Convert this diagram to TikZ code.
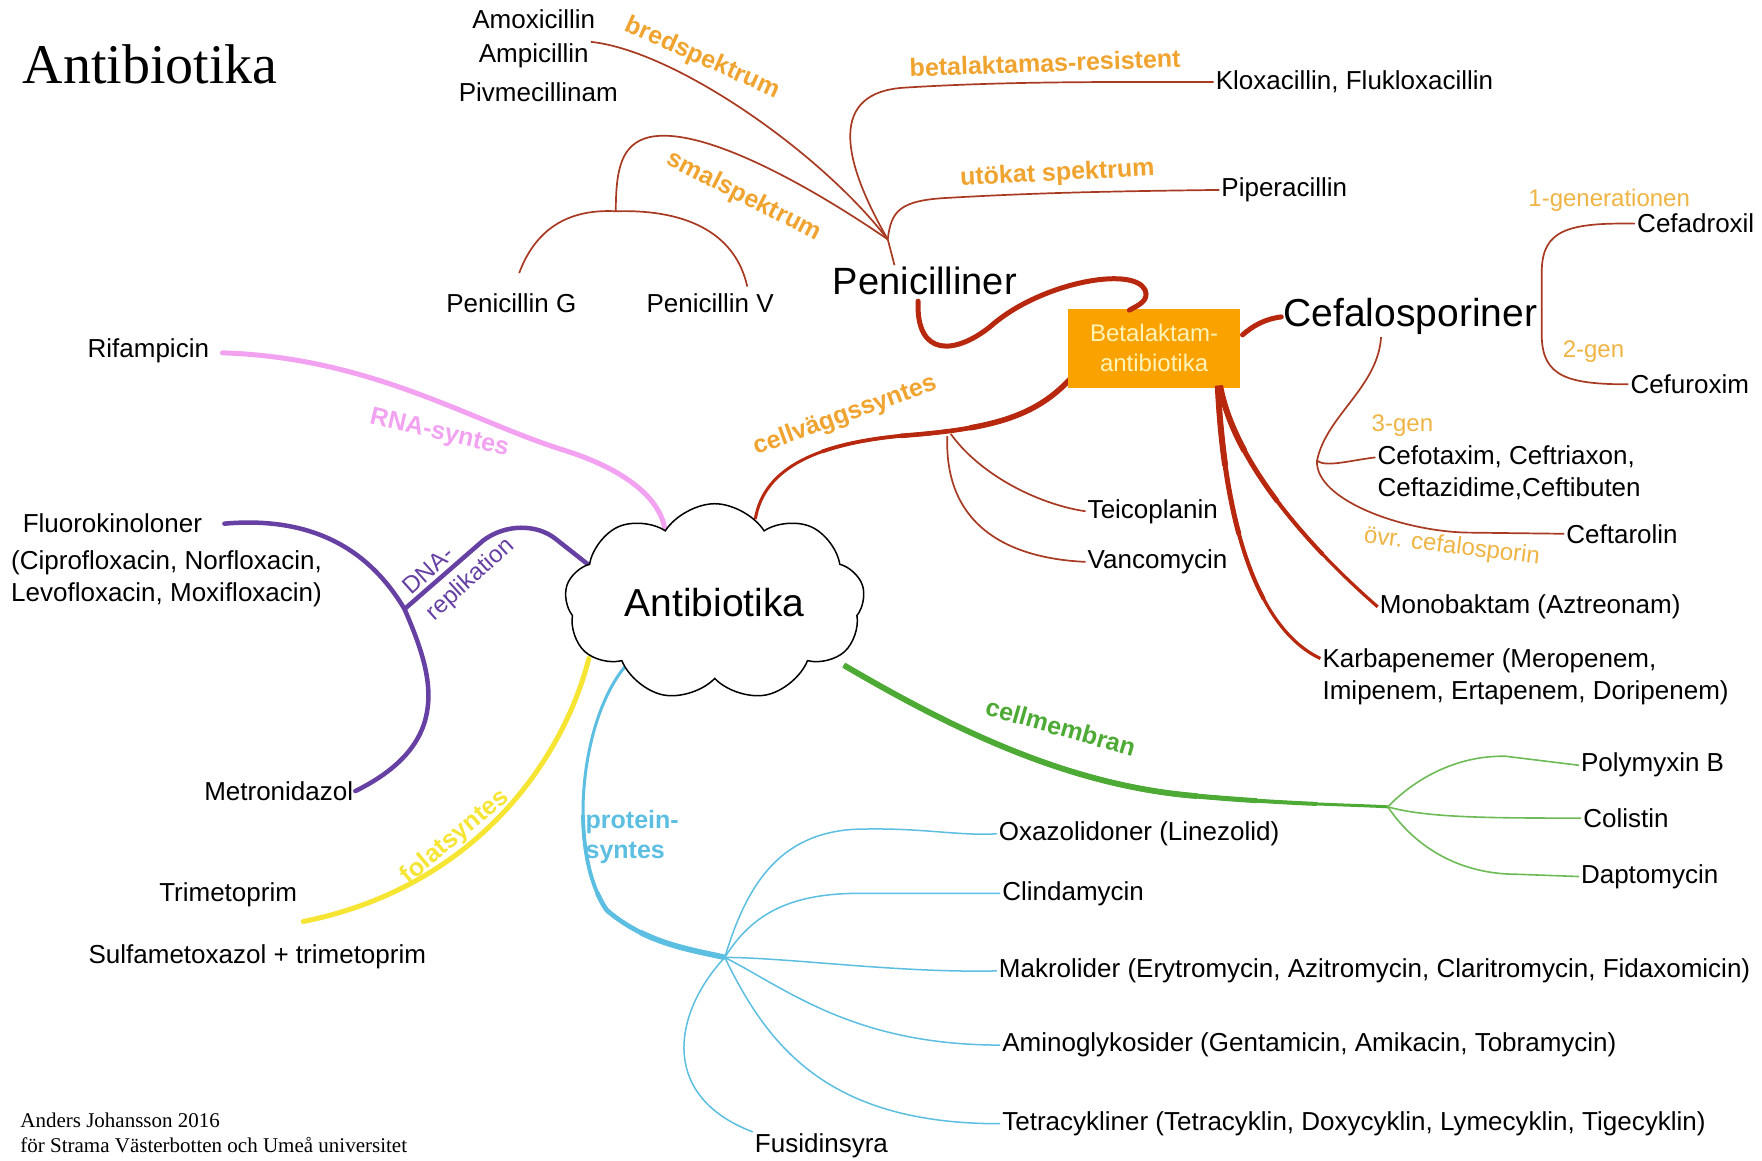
\documentclass[tikz,border=0pt]{standalone}
\usepackage{fontspec}
\setmainfont{Liberation Sans}
\newfontfamily\serifA{Liberation Serif}
\usetikzlibrary{shapes.symbols,calc}
\definecolor{lblorange}{HTML}{F0A32E}
\definecolor{lblgen}{HTML}{EFB443}
\definecolor{redthin}{HTML}{A93A22}
\definecolor{redthick}{HTML}{B8280E}
\definecolor{boxfill}{HTML}{FAA200}
\definecolor{boxtext}{HTML}{FFF4B8}
\definecolor{pinkc}{HTML}{F2A2F0}
\definecolor{purplec}{HTML}{6640A2}
\definecolor{yellowc}{HTML}{F6E532}
\definecolor{bluec}{HTML}{5CBFE2}
\definecolor{greenc}{HTML}{4DAA34}
\definecolor{greenthin}{HTML}{6DBB55}
\pgfdeclarelayer{bglines}
\pgfsetlayers{bglines,main}
\begin{document}
\begin{tikzpicture}[x=1.1237pt,y=-1.1237pt,
  item/.style={font=\fontsize{26}{32}\selectfont, inner sep=2pt, align=left},
  big/.style={font=\fontsize{38}{44}\selectfont, inner sep=2pt},
  lbl/.style={font=\bfseries\fontsize{25}{30}\selectfont, text=lblorange, inner sep=0pt},
  genlbl/.style={font=\fontsize{24}{28}\selectfont, text=lblgen, inner sep=0pt},
  thinred/.style={draw=redthin, line width=1.7pt},
  thickred/.style={draw=redthick, line width=5pt, line cap=round},
  pinkline/.style={draw=pinkc, line width=5pt, line cap=round},
  purpleline/.style={draw=purplec, line width=4.5pt, line cap=round},
  yellowline/.style={draw=yellowc, line width=5pt, line cap=round},
  bluethin/.style={draw=bluec, line width=1.5pt},
  greenthinline/.style={draw=greenthin, line width=1.6pt},
  boxstyle/.style={fill=boxfill, text=boxtext, font=\fontsize{24}{30}\selectfont, align=center, minimum width=172pt, minimum height=79pt, inner sep=0pt}
]
\useasboundingbox (0,0) rectangle (1568,1033);
\begin{pgfonlayer}{bglines}
\fill[white] (0,0) rectangle (1568,1033);
\end{pgfonlayer}

% ---------- titles ----------
\node[font=\serifA\fontsize{56}{60}\selectfont, anchor=west, inner sep=0pt] (title) at (20,57) {Antibiotika};
\node[font=\serifA\fontsize{21}{25}\selectfont, anchor=west, align=left, inner sep=0pt] (credit) at (18,1008) {Anders Johansson 2016\\för Strama Västerbotten och Umeå universitet};

% ---------- cloud ----------
\node[cloud, draw=black, fill=white, line width=1.5pt, cloud puffs=9, cloud puff arc=115, aspect=1.6, minimum width=300pt, minimum height=190pt, inner sep=0pt, font=\fontsize{39}{44}\selectfont] (cl) at (636,536) {Antibiotika};

% ---------- penicillin subtree ----------
\node[item] (amox) at (475,17) {Amoxicillin};
\node[item] (ampi) at (475,50) {Ampicillin};
\node[item] (pivm) at (479,82) {Pivmecillinam};
\node[item] (penG) at (455,270) {Penicillin G};
\node[item] (penV) at (632,270) {Penicillin V};
\node[item, anchor=west] (klox) at (1080,73) {Kloxacillin, Flukloxacillin};
\node[item, anchor=west] (pip) at (1085,169) {Piperacillin};
\node[big] (pen) at (823,250) {Penicilliner};

\node[lbl, rotate=-24] (lbred) at (625,52) {bredspektrum};
\node[lbl, rotate=-27] (lsmal) at (662,175) {smalspektrum};
\node[lbl, rotate=2] (lbres) at (930,56) {betalaktamas-resistent};
\node[lbl, rotate=3] (lutok) at (941,155) {utökat spektrum};

\coordinate (penhub) at (790,213);
\coordinate (pgvj) at (548,188);
\coordinate (pGend) at (462,243);
\coordinate (pVend) at (665,255);
\coordinate (pentop) at (796,236);

\draw[thinred] (ampi.north east) .. controls (600,45) and (730,135) .. (penhub);
\draw[thinred] (penhub) .. controls (720,165) and (625,112) .. (578,122) .. controls (553,128) and (548,150) .. (pgvj);
\draw[thinred] (pGend) .. controls (478,200) and (510,186) .. (pgvj) .. controls (615,186) and (655,210) .. (pVend);
\draw[thinred] (penhub) .. controls (748,140) and (738,82) .. (805,78) .. controls (900,72) and (1000,73) .. (klox.west);
\draw[thinred] (penhub) .. controls (793,188) and (800,178) .. (845,176) .. controls (930,171) and (1010,170) .. (pip.west);
\draw[thinred] (penhub) -- (pentop);

% ---------- betalaktam box ----------
\node[boxstyle] (box) at (1027,310) {Betalaktam-\\antibiotika};
\coordinate (pentail) at (817,268);
\coordinate (boxin) at (1005,276);
\draw[thickred] (pentail) .. controls (815,318) and (850,316) .. (882,290) .. controls (925,252) and (1008,236) .. (1019,258) .. controls (1023,268) and (1012,272) .. (boxin);

\node[big, font=\fontsize{39}{44}\selectfont] (cef) at (1255,282) {Cefalosporiner};
\draw[thickred] ($(box.east)+(2,-12)$) .. controls (1115,290) and (1125,284) .. (cef.west);

% ---------- cefalosporin subtree ----------
\node[item, anchor=west] (cfdx) at (1455,199) {Cefadroxil};
\node[item, anchor=west] (cfrx) at (1449,342) {Cefuroxim};
\node[item, anchor=west] (cftx) at (1224,421) {Cefotaxim, Ceftriaxon,\\Ceftazidime,Ceftibuten};
\node[item, anchor=west] (cftr) at (1392,475) {Ceftarolin};
\node[genlbl] (g1) at (1432,178) {1-generationen};
\node[genlbl] (g2) at (1418,313) {2-gen};
\node[genlbl] (g3) at (1248,379) {3-gen};
\node[genlbl, rotate=-7] (govr) at (1292,487) {övr. cefalosporin};

\draw[thinred] (cfdx.west) .. controls (1395,198) and (1373,205) .. (1372,240) -- (1372,300) .. controls (1373,335) and (1395,342) .. (cfrx.west);
\coordinate (cefbot) at (1229,300);
\coordinate (g3j) at (1172,410);
\draw[thinred] (cefbot) .. controls (1226,345) and (1180,370) .. (g3j) .. controls (1180,416) and (1200,410) .. ($(cftx.west)+(0,-14)$);
\draw[thinred] (g3j) .. controls (1170,445) and (1250,474) .. (1310,474) -- (cftr.west);

% ---------- cell wall ----------
\node[lbl, rotate=20] (lcw) at (752,370) {cellväggssyntes};
\begin{pgfonlayer}{bglines}
\foreach \dofs/\dwid in {0/3, 100/3.8, 180/4.6, 250/5.5} {
  \draw[draw=redthick, line width=\dwid pt, dash pattern={on 0pt off \dofs pt on 3000pt off 1pt}] (cl.64) .. controls (680,415) and (730,395) .. (800,388) .. controls (880,382) and (920,372) .. ($(box.south west)+(2,-8)$);
}
\end{pgfonlayer}
\node[item, anchor=west] (teico) at (966,455) {Teicoplanin};
\node[item, anchor=west] (vanco) at (966,500) {Vancomycin};
\draw[thinred] (846,386) .. controls (870,420) and (920,448) .. (teico.west);
\draw[thinred] (843,388) .. controls (840,470) and (900,497) .. (vanco.west);
\node[item, anchor=west] (mono) at (1226,540) {Monobaktam (Aztreonam)};
\node[item, anchor=west] (karb) at (1175,602) {Karbapenemer (Meropenem,\\Imipenem, Ertapenem, Doripenem)};
\foreach \dlen/\dwid in {3000/3.2, 200/4, 130/5, 70/6} {
  \draw[draw=redthick, line width=\dwid pt, dash pattern={on \dlen pt off 3000pt}] ($(box.south east)+(-18,-2)$) .. controls (1100,420) and (1180,500) .. (mono.west);
}
\foreach \dlen/\dwid in {3000/3.2, 220/4, 150/5, 80/6} {
  \draw[draw=redthick, line width=\dwid pt, dash pattern={on \dlen pt off 3000pt}] ($(box.south east)+(-20,-2)$) .. controls (1090,470) and (1120,560) .. ($(karb.west)+(0,-16)$);
}

% ---------- RNA ----------
\node[item] (rif) at (132,312) {Rifampicin};
\node[lbl, text=pinkc, rotate=-13] (lrna) at (391,386) {RNA-syntes};
\begin{pgfonlayer}{bglines}
\draw[pinkline] ($(rif.east)+(10,2)$) .. controls (330,318) and (420,375) .. (500,400) .. controls (580,425) and (592,460) .. ($(cl.center)+(-44,-60)$);
\end{pgfonlayer}

% ---------- DNA ----------
\node[item] (fluo) at (100,466) {Fluorokinoloner};
\node[item, anchor=west] (cipro) at (8,515) {(Ciprofloxacin, Norfloxacin,\\Levofloxacin, Moxifloxacin)};
\node[item] (metro) at (248,704) {Metronidazol};
\coordinate (dnaj) at (360,542);
\draw[purpleline] ($(fluo.east)+(18,0)$) .. controls (290,458) and (335,500) .. (dnaj) .. controls (385,600) and (405,660) .. (metro.east);
\begin{pgfonlayer}{bglines}
\draw[purpleline] (dnaj) -- (430,481) .. controls (450,466) and (478,466) .. (495,480) -- ($(cl.center)+(-80,-8)$);
\end{pgfonlayer}
\node[font=\fontsize{24}{34}\selectfont, text=purplec, rotate=42, inner sep=0pt, align=left] (ldna) at (409,505) {DNA-\\replikation};

% ---------- folate ----------
\node[item] (trim) at (203,796) {Trimetoprim};
\node[item] (sulfa) at (229,851) {Sulfametoxazol + trimetoprim};
\coordinate (trimend) at (270,820);
\begin{pgfonlayer}{bglines}
\draw[yellowline] ($(cl.center)+(-112,50)$) .. controls (500,680) and (420,790) .. (trimend);
\end{pgfonlayer}
\node[lbl, text=yellowc, rotate=40] (lfol) at (405,745) {folatsyntes};

% ---------- protein ----------
\node[lbl, text=bluec, anchor=west, align=left] (lprot) at (521,745) {protein-\\syntes};
\coordinate (prothub) at (645,852);
\begin{pgfonlayer}{bglines}
\foreach \dofs/\dwid in {0/3, 160/3.8, 240/4.7, 300/5.6} {
  \draw[draw=bluec, line width=\dwid pt, dash pattern={on 0pt off \dofs pt on 3000pt off 1pt}] ($(cl.center)+(-78,55)$) .. controls (515,640) and (505,760) .. (540,810) .. controls (575,840) and (615,845) .. (prothub);
}
\end{pgfonlayer}
\node[item, anchor=west] (oxa) at (887,742) {Oxazolidoner (Linezolid)};
\node[item, anchor=west] (clin) at (890,795) {Clindamycin};
\node[item, anchor=west] (makro) at (887,864) {Makrolider (Erytromycin, Azitromycin, Claritromycin, Fidaxomicin)};
\node[item, anchor=west] (amino) at (890,930) {Aminoglykosider (Gentamicin, Amikacin, Tobramycin)};
\node[item, anchor=west] (tetra) at (890,1000) {Tetracykliner (Tetracyklin, Doxycyklin, Lymecyklin, Tigecyklin)};
\node[item] (fusid) at (731,1020) {Fusidinsyra};
\draw[bluethin] (prothub) .. controls (665,785) and (695,742) .. (760,738) .. controls (820,736) and (850,744) .. (oxa.west);
\draw[bluethin] (prothub) .. controls (668,815) and (700,796) .. (760,795) -- (clin.west);
\draw[bluethin] (prothub) .. controls (700,852) and (800,866) .. (makro.west);
\draw[bluethin] (prothub) .. controls (700,880) and (760,930) .. (amino.west);
\draw[bluethin] (prothub) .. controls (685,935) and (740,1000) .. (tetra.west);
\draw[bluethin] (prothub) .. controls (600,900) and (585,975) .. (fusid.north west);

% ---------- membrane ----------
\node[lbl, text=greenc, rotate=-16] (lmem) at (944,647) {cellmembran};
\coordinate (ghub) at (1235,718);
\begin{pgfonlayer}{bglines}
\foreach \dlen/\dwid in {3000/3, 500/4, 440/5, 380/5.8} {
  \draw[draw=greenc, line width=\dwid pt, dash pattern={on \dlen pt off 3000pt}] ($(cl.center)+(115,56)$) .. controls (850,650) and (950,698) .. (1060,708) .. controls (1150,716) and (1200,716) .. (ghub);
}
\end{pgfonlayer}
\node[item, anchor=west] (poly) at (1405,681) {Polymyxin B};
\node[item, anchor=west] (coli) at (1407,728) {Colistin};
\node[item, anchor=west] (dapto) at (1405,780) {Daptomycin};
\draw[greenthinline] (ghub) .. controls (1262,690) and (1300,672) .. (1340,673) -- (poly.west);
\draw[greenthinline] (ghub) .. controls (1270,728) and (1330,728) .. (coli.west);
\draw[greenthinline] (ghub) .. controls (1260,755) and (1300,778) .. (1350,778) -- (dapto.west);
\end{tikzpicture}
\end{document}
